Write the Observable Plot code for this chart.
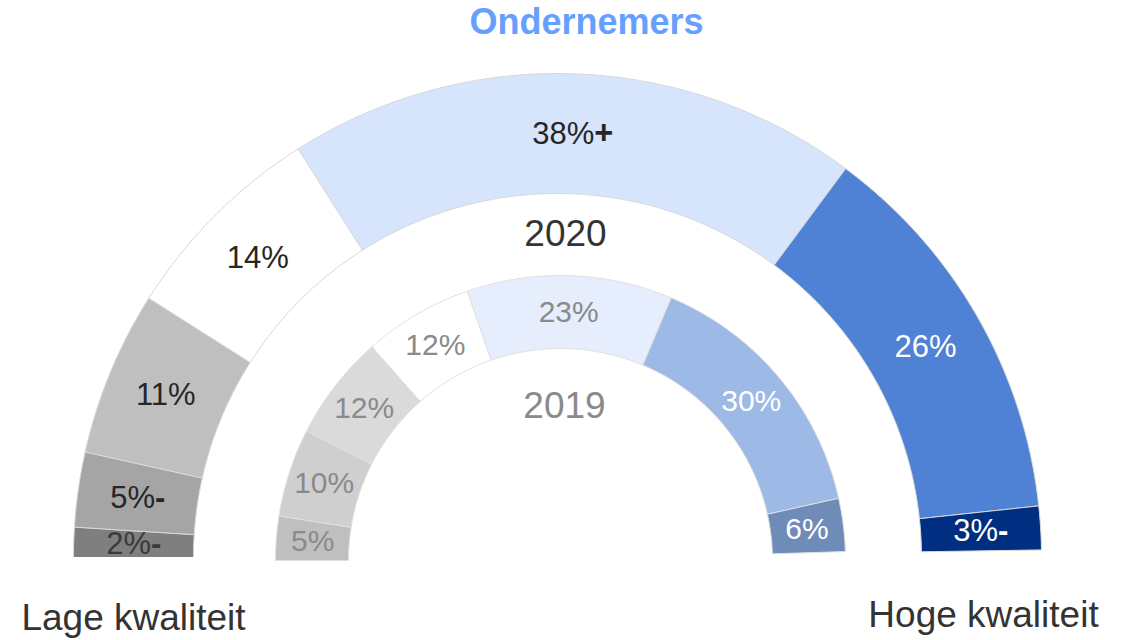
<!DOCTYPE html>
<html><head><meta charset="utf-8">
<script src="https://cdn.jsdelivr.net/npm/d3@7"></script>
<script src="https://cdn.jsdelivr.net/npm/@observablehq/plot@0.6"></script>
<style>body{margin:0;background:#fff} svg{display:block}</style>
</head><body><div id="chart"></div>
<script>
// ---- data ----
const title = "Ondernemers";
const years = ["2020", "2019"];
const endLabels = ["Lage kwaliteit", "Hoge kwaliteit"];

const labels2020 = ["2%-", "5%-", "11%", "14%", "38%+", "26%", "3%-"];
const values2020 = [2, 5, 11, 14, 38.3, 26.3, 2.9];
const colors2020 = ["#7f7f7f", "#a5a5a5", "#bfbfbf", "#ffffff", "#d6e4fc", "#4f81d5", "#002e80"];
const textColors2020 = ["#3a3a3a", "#262626", "#262626", "#262626", "#262626", "#ffffff", "#ffffff"];

const labels2019 = ["5%", "10%", "12%", "12%", "23%", "30%", "6%"];
const values2019 = [5, 10, 12, 12.4, 23.3, 30.3, 6];
const colors2019 = ["#bfbfbf", "#cfcfcf", "#dadada", "#ffffff", "#e6eefd", "#9db9e6", "#6f8bb8"];
const textColors2019 = ["#8a8a8a", "#8a8a8a", "#8a8a8a", "#8a8a8a", "#8a8a8a", "#ffffff", "#ffffff"];

// ---- layout ----
const W = 1124, H = 640;
const rings = [
  {year: "2020", cx: 557, cy: 557, r0: 364, r1: 484, values: values2020, labels: labels2020, colors: colors2020, text: textColors2020},
  {year: "2019", cx: 560, cy: 560, r0: 212, r1: 285, values: values2019, labels: labels2019, colors: colors2019, text: textColors2019}
];
const FONT = "Liberation Sans, Arial, sans-serif";

function pt(ring, r, share) { // share in percent, 100% = half circle, from left over the top
  const t = share / 100 * Math.PI;
  return [ring.cx - r * Math.cos(t), ring.cy - r * Math.sin(t)];
}

function buildRing(ring) {
  const polys = [], labels = [];
  let cum = 0;
  ring.values.forEach((v, i) => {
    const a0 = cum, a1 = cum + v;
    const n = Math.max(6, Math.ceil(v * 2));
    const key = ring.year + "-" + i;
    const pts = [];
    for (let k = 0; k <= n; k++) pts.push(pt(ring, ring.r1, a0 + (a1 - a0) * k / n));
    for (let k = n; k >= 0; k--) pts.push(pt(ring, ring.r0, a0 + (a1 - a0) * k / n));
    pts.push(pts[0]);
    pts.forEach(([x, y]) => polys.push({key, x, y, fill: ring.colors[i]}));
    const [lx, ly] = pt(ring, (ring.r0 + ring.r1) / 2, (a0 + a1) / 2);
    labels.push({x: lx, y: ly, text: ring.labels[i], color: ring.text[i]});
    cum = a1;
  });
  return {polys, labels};
}

const outer = buildRing(rings[0]);
const inner = buildRing(rings[1]);

const yearPos = [
  {text: years[0], x: rings[0].cx + 8, y: rings[0].cy - 323, color: "#333333"},
  {text: years[1], x: rings[1].cx + 4, y: rings[1].cy - 154, color: "#8a8a8a"}
];
const endPos = [
  {text: endLabels[0], x: pt(rings[0], (rings[0].r0 + rings[0].r1) / 2, 0)[0], y: 618},
  {text: endLabels[1], x: pt(rings[0], (rings[0].r0 + rings[0].r1) / 2, 100)[0] + 2, y: 615}
];

const plot = Plot.plot({
  width: W, height: H,
  marginTop: 0, marginLeft: 0, marginRight: 0, marginBottom: H - rings[0].cy,
  x: {domain: [0, W], range: [0, W], axis: null},
  y: {domain: [0, H], range: [0, H], axis: null},
  color: {type: "identity"},
  style: {fontFamily: FONT, background: "#fff"},
  marks: [
    Plot.line(outer.polys, {x: "x", y: "y", z: "key", fill: "fill", stroke: "#d9d9d9", strokeWidth: 1, clip: true}),
    Plot.line(inner.polys, {x: "x", y: "y", z: "key", fill: "fill", stroke: "#e0e0e0", strokeWidth: 1}),
    Plot.text(outer.labels, {x: "x", y: "y", text: "text", fill: "color", fontSize: 31, clip: true}),
    Plot.text(inner.labels, {x: "x", y: "y", text: "text", fill: "color", fontSize: 30}),
    Plot.text(yearPos, {x: "x", y: "y", text: "text", fill: "color", fontSize: 37}),
    Plot.text(endPos, {x: "x", y: "y", text: "text", fill: "#333333", fontSize: 37}),
    Plot.text([title], {x: () => 586, y: () => 22, text: d => d, fill: "#66a0ff", fontSize: 36, fontWeight: "bold"})
  ]
});

// make the trailing significance marks (+ / -) bold
d3.select(plot).selectAll("text").each(function() {
  if (this.querySelector("tspan")) return;
  const s = this.textContent;
  const m = s.match(/^(\d+%)([+-])$/);
  if (m) {
    const el = d3.select(this);
    el.text(m[1]);
    el.append("tspan").attr("font-weight", "900").attr("font-size", m[2] === "+" ? "1.05em" : "1em").text(m[2]);
  }
});

document.getElementById("chart").appendChild(plot);
</script>
</body></html>
